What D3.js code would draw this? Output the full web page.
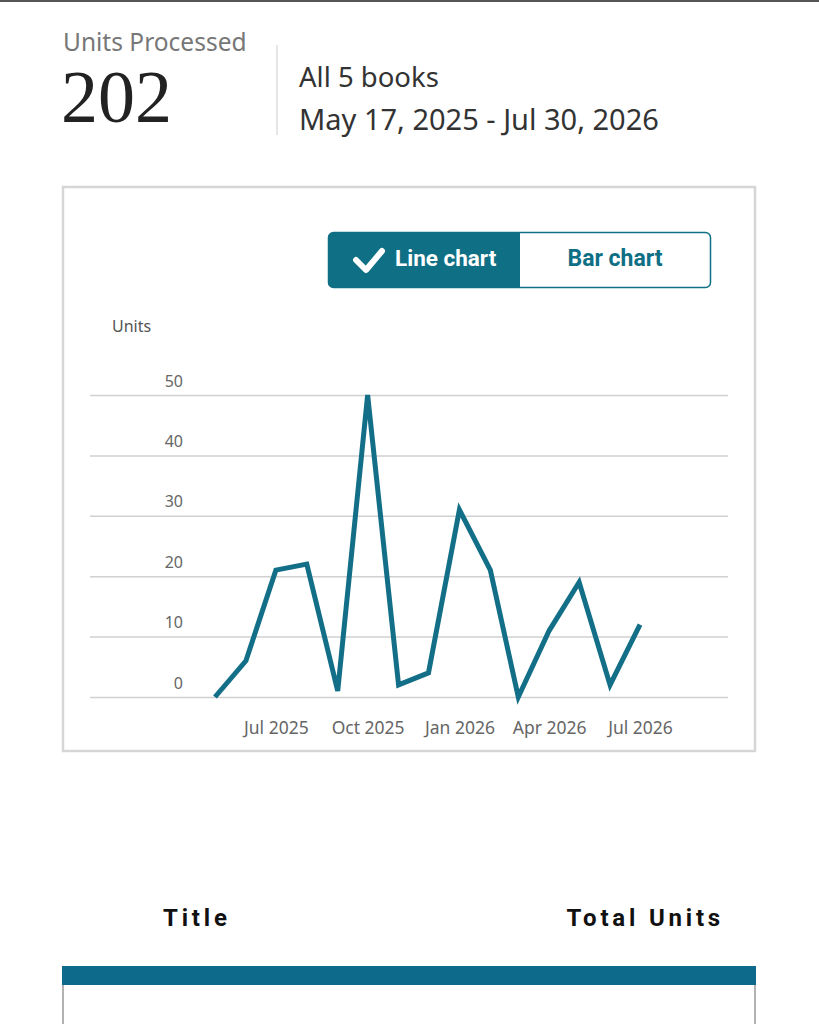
<!DOCTYPE html>
<html>
<head>
<meta charset="utf-8">
<script src="https://cdn.jsdelivr.net/npm/d3@7"></script>
<style>
  html, body { margin: 0; padding: 0; background: #fff; }
  svg { display: block; }
</style>
</head>
<body>
<svg id="chart" width="819" height="1024"></svg>
<script>
// ---- data ----
const months = ["2025-05","2025-06","2025-07","2025-08","2025-09","2025-10","2025-11","2025-12",
                "2026-01","2026-02","2026-03","2026-04","2026-05","2026-06","2026-07"];
const units = [0, 6, 21, 22, 1, 50, 2, 4, 31, 21, 0, 11, 19, 2, 12];
const yTicks = [0, 10, 20, 30, 40, 50];
const xTickLabels = ["Jul 2025", "Oct 2025", "Jan 2026", "Apr 2026", "Jul 2026"];
const headerLabel = "Units Processed";
const totalUnits = "202";
const booksLabel = "All 5 books";
const dateRange = "May 17, 2025 - Jul 30, 2026";
const tableHeaders = ["Title", "Total Units"];

const teal = "#0f6f85";
const parse = d3.timeParse("%Y-%m");
const data = months.map((m, i) => ({ date: parse(m), value: units[i] }));

const svg = d3.select("#chart");

// top rule
svg.append("rect").attr("x", 0).attr("y", 0).attr("width", 819).attr("height", 2).attr("fill", "#555");

// header
svg.append("text").attr("x", 63).attr("y", 51).attr("font-family", "Noto Sans, sans-serif")
  .attr("font-size", 24.5).attr("fill", "#777").text(headerLabel);
svg.append("text").attr("x", 61).attr("y", 122).attr("font-family", "Liberation Serif, serif")
  .attr("font-size", 74).attr("fill", "#222").text(totalUnits);
svg.append("line").attr("x1", 277).attr("x2", 277).attr("y1", 45).attr("y2", 135)
  .attr("stroke", "#ccc").attr("stroke-width", 1);
svg.append("text").attr("x", 299).attr("y", 87).attr("font-family", "Noto Sans, sans-serif")
  .attr("font-size", 27.5).attr("fill", "#333").text(booksLabel);
svg.append("text").attr("x", 299).attr("y", 130).attr("font-family", "Noto Sans, sans-serif")
  .attr("font-size", 29).attr("fill", "#333").text(dateRange);

// chart box
svg.append("rect").attr("x", 63).attr("y", 187).attr("width", 692).attr("height", 564)
  .attr("fill", "#fff").attr("stroke", "#d6d6d6").attr("stroke-width", 2.5);

// toggle
const tg = svg.append("g");
tg.append("rect").attr("x", 328.5).attr("y", 232.5).attr("width", 382).attr("height", 55).attr("rx", 5)
  .attr("fill", "#fff").attr("stroke", teal).attr("stroke-width", 1.5);
tg.append("path")
  .attr("d", "M520,232.5 H333.5 a5,5 0 0 0 -5,5 V282.5 a5,5 0 0 0 5,5 H520 Z")
  .attr("fill", teal);
tg.append("path").attr("d", "M356,260 L366,270 L382,251")
  .attr("fill", "none").attr("stroke", "#fff").attr("stroke-width", 6)
  .attr("stroke-linecap", "round").attr("stroke-linejoin", "round");
tg.append("text").attr("x", 395).attr("y", 266).attr("font-family", "Roboto, sans-serif")
  .attr("font-weight", 700).attr("font-size", 22.5).attr("fill", "#fff").text("Line chart");
tg.append("text").attr("x", 615).attr("y", 266).attr("text-anchor", "middle").attr("font-family", "Roboto, sans-serif")
  .attr("font-weight", 700).attr("font-size", 23).attr("fill", teal).text("Bar chart");

// scales
const x = d3.scaleTime().domain([data[0].date, data[data.length - 1].date]).range([215, 640]);
const y = d3.scaleLinear().domain([0, 50]).range([697, 395]);
const gridX0 = 90, gridX1 = 728;

// units label
svg.append("text").attr("x", 112).attr("y", 332).attr("font-family", "Noto Sans, sans-serif")
  .attr("font-size", 16).attr("fill", "#555").text("Units");

// y grid + labels
const yAxis = d3.axisLeft(y).tickValues(yTicks).tickSize(0).tickPadding(0);
const yg = svg.append("g").attr("transform", `translate(${gridX0},0)`).call(yAxis);
yg.select(".domain").remove();
yg.selectAll(".tick line").attr("x2", gridX1 - gridX0).attr("stroke", "#d0d0d0").attr("stroke-width", 1.5);
yg.selectAll(".tick text").attr("x", 93).attr("dy", "-9").attr("text-anchor", "end")
  .attr("font-family", "Noto Sans, sans-serif").attr("font-size", 16).attr("fill", "#666");

// x axis labels
const fmt = d3.timeFormat("%b %Y");
const xAxis = d3.axisBottom(x).ticks(d3.timeMonth.every(3)).tickFormat(fmt).tickSize(0).tickPadding(0);
const xg = svg.append("g").attr("transform", `translate(0,${734})`).call(xAxis);
xg.select(".domain").remove();
xg.selectAll(".tick text").attr("dy", 0)
  .attr("font-family", "Noto Sans, sans-serif").attr("font-size", 17.5).attr("fill", "#666")
  .text((d, i) => xTickLabels[i] || fmt(d));

// line
const line = d3.line().x(d => x(d.date)).y(d => y(d.value));
svg.append("path").datum(data).attr("d", line).attr("fill", "none")
  .attr("stroke", "#136f87").attr("stroke-width", 5).attr("stroke-linejoin", "miter");

// table header
svg.append("text").attr("x", 163).attr("y", 926).attr("font-family", "Roboto, sans-serif")
  .attr("font-weight", 700).attr("font-size", 24).attr("letter-spacing", 3.8).attr("fill", "#111").text(tableHeaders[0]);
svg.append("text").attr("x", 724).attr("y", 926).attr("text-anchor", "end").attr("font-family", "Roboto, sans-serif")
  .attr("font-weight", 700).attr("font-size", 24).attr("letter-spacing", 3.8).attr("fill", "#111").text(tableHeaders[1]);
svg.append("rect").attr("x", 63).attr("y", 984).attr("width", 692).attr("height", 60)
  .attr("fill", "#fff").attr("stroke", "#999").attr("stroke-width", 1.5);
svg.append("rect").attr("x", 62).attr("y", 966).attr("width", 694).attr("height", 19).attr("fill", "#0e6a8b");
</script>
</body>
</html>
